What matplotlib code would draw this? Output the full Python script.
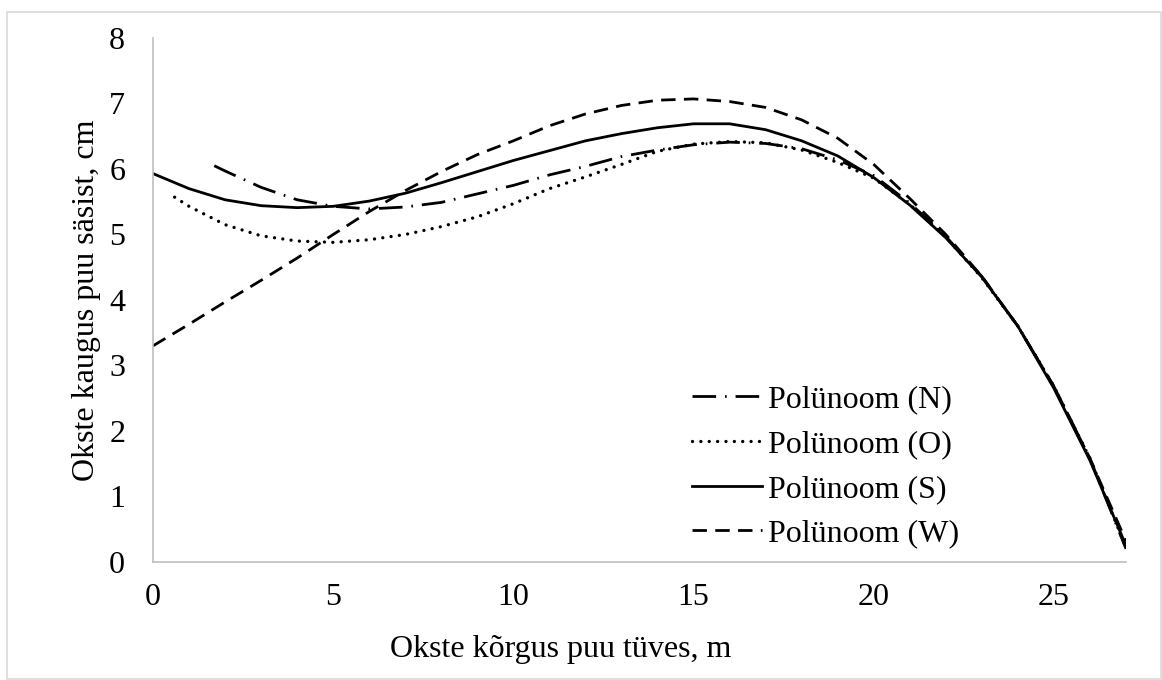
import matplotlib
matplotlib.use("Agg")
import matplotlib.pyplot as plt
from matplotlib.patches import Rectangle

plt.rcParams['font.family'] = ['Liberation Serif', 'DejaVu Serif']

# ---- data ----
x_S = [0, 1, 2, 3, 4, 5, 6, 7, 8, 9, 10, 11, 12, 13, 14, 15, 16, 17, 18, 19, 20,
       21, 22, 23, 24, 25, 26, 27]
y_S = [5.93, 5.70, 5.53, 5.44, 5.41, 5.43, 5.51, 5.63, 5.79, 5.96, 6.13, 6.28,
       6.43, 6.54, 6.63, 6.69, 6.69, 6.60, 6.43, 6.20, 5.87, 5.45, 4.95, 4.35,
       3.60, 2.65, 1.55, 0.25]

x_O = [0.6, 1, 2, 3, 4, 5, 6, 7, 8, 9, 10, 11, 12, 13, 14, 15, 16, 17, 18, 19,
       20, 21, 22, 23, 24, 25, 26, 27]
y_O = [5.57, 5.43, 5.15, 4.98, 4.90, 4.88, 4.92, 5.00, 5.12, 5.27, 5.47, 5.70,
       5.88, 6.07, 6.27, 6.38, 6.42, 6.40, 6.29, 6.10, 5.86, 5.46, 4.96, 4.34,
       3.60, 2.68, 1.58, 0.22]

x_N = [1.7, 2, 3, 4, 5, 6, 7, 8, 9, 10, 11, 12, 13, 14, 15, 16, 17, 18, 19, 20,
       21, 22, 23, 24, 25, 26, 27]
y_N = [6.05, 5.97, 5.72, 5.53, 5.43, 5.39, 5.42, 5.49, 5.62, 5.75, 5.91, 6.04,
       6.19, 6.29, 6.37, 6.41, 6.39, 6.31, 6.14, 5.90, 5.48, 4.97, 4.36, 3.60,
       2.68, 1.58, 0.20]

x_W = [0, 1, 2, 3, 4, 5, 6, 7, 8, 9, 10, 11, 12, 13, 14, 15, 16, 17, 18, 19, 20,
       21, 22, 23, 24, 25, 26, 27]
y_W = [3.30, 3.63, 3.97, 4.30, 4.64, 5.00, 5.35, 5.67, 5.96, 6.22, 6.43, 6.66,
       6.84, 6.97, 7.05, 7.07, 7.03, 6.94, 6.75, 6.47, 6.07, 5.55, 5.00, 4.36,
       3.60, 2.68, 1.58, 0.32]

labels = ["Polünoom (N)", "Polünoom (O)", "Polünoom (S)", "Polünoom (W)"]
x_ticks = [0, 5, 10, 15, 20, 25]
y_ticks = [0, 1, 2, 3, 4, 5, 6, 7, 8]

# ---- figure ----
W, H = 1162, 680
fig = plt.figure(figsize=(W / 100, H / 100), dpi=100)
ax = fig.add_axes([153 / W, 1 - 562 / H, (1126 - 153) / W, (562 - 38) / H])

lw = 2.0
ax.plot(x_N, y_N, color='black', lw=lw, dashes=(8.5, 3.2, 0.6, 3.2), label=labels[0])
ax.plot(x_O, y_O, color='black', lw=2.4, dashes=(0.01, 2.5), dash_capstyle='round',
        label=labels[1])
ax.plot(x_S, y_S, color='black', lw=lw, label=labels[2])
ax.plot(x_W, y_W, color='black', lw=lw, dashes=(5.2, 3.0), label=labels[3])

ax.set_xlim(0, 27)
ax.set_ylim(0, 8)
ax.set_xticks(x_ticks)
ax.set_yticks(y_ticks)
ax.tick_params(axis='both', length=0, labelsize=23)
ax.tick_params(axis='x', pad=15)
ax.tick_params(axis='y', pad=20)

for s in ['top', 'right']:
    ax.spines[s].set_visible(False)
for s in ['left', 'bottom']:
    ax.spines[s].set_color('#BFBFBF')
    ax.spines[s].set_linewidth(1.2)

ax.set_xlabel("Okste kõrgus puu tüves, m", fontsize=23)
ax.set_ylabel("Okste kaugus puu säsist, cm", fontsize=23)
ax.xaxis.set_label_coords((561 - 153) / (1126 - 153), -(650 - 562) / (562 - 38))
ax.yaxis.set_label_coords(-(153 - 87) / (1126 - 153), 0.5)
ax.xaxis.label.set_va('center')
ax.yaxis.label.set_va('center')

leg = ax.legend(loc='upper left',
                bbox_to_anchor=((692 - 153) / (1126 - 153), 1 - (385 - 38) / (562 - 38)),
                frameon=False, fontsize=23, handlelength=2.2, handletextpad=0.19,
                labelspacing=0.48, borderaxespad=0, borderpad=0)

# outer chart border
fig.patches.append(Rectangle((7 / W, 1 / H), (W - 8) / W, (H - 13) / H,
                             transform=fig.transFigure, fill=False,
                             edgecolor='#D9D9D9', lw=1.2))

fig.savefig("out.png", dpi=100)
